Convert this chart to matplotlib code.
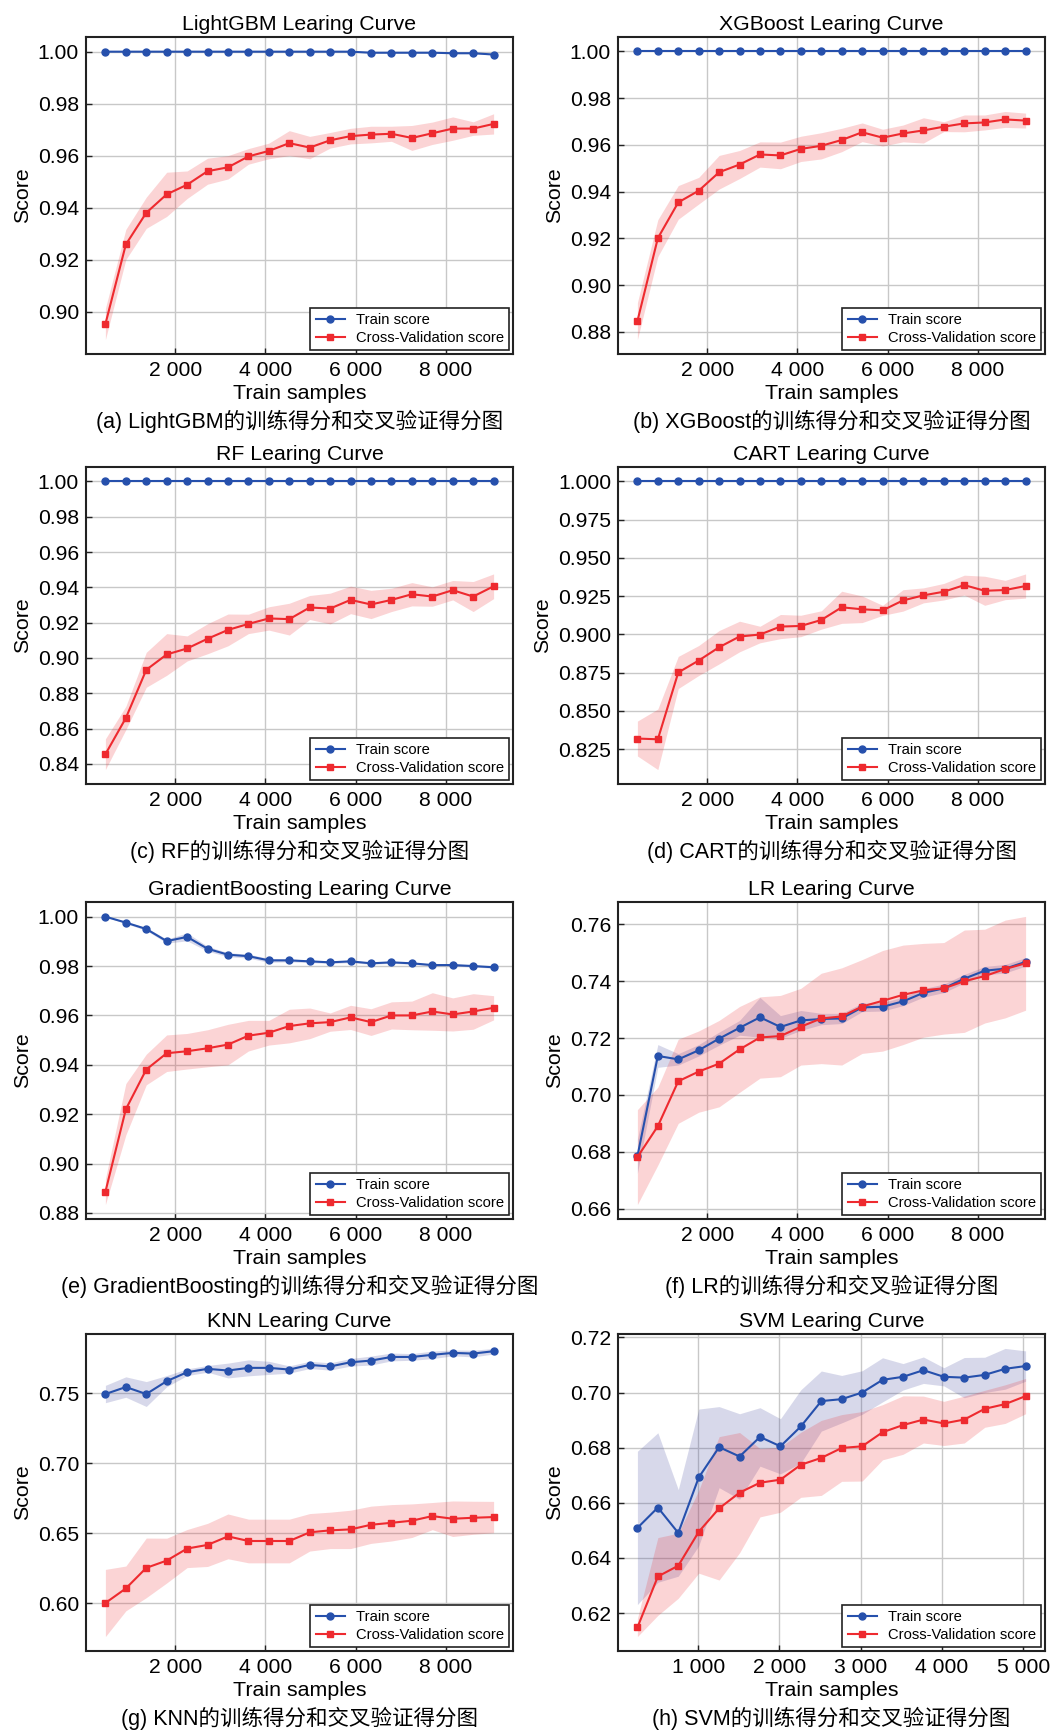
import numpy as np
import matplotlib
matplotlib.use("Agg")
import matplotlib.pyplot as plt
from matplotlib.ticker import FuncFormatter, MultipleLocator

plt.rcParams['font.family'] = ['Liberation Sans', 'Noto Sans CJK SC']

# training set sizes (learning_curve steps)
sizes_full = [453, 906, 1359, 1812, 2265, 2718, 3171, 3624, 4077, 4530,
              4983, 5436, 5889, 6342, 6795, 7248, 7701, 8154, 8607, 9060]
sizes_svm = [251, 503, 754, 1006, 1257, 1509, 1760, 2012, 2263, 2515,
             2766, 3018, 3269, 3521, 3772, 4024, 4275, 4527, 4778, 5030]

# (a) LightGBM
lgb_train = [1.0, 1.0, 1.0, 1.0, 1.0, 1.0, 1.0, 1.0, 1.0, 1.0,
             1.0, 1.0, 1.0, 0.9996, 0.9996, 0.9996, 0.9996, 0.9994, 0.9994, 0.9989]
lgb_train_std = [0.0001] * 13 + [0.0002] * 7
lgb_cv = [0.8952, 0.9258, 0.9380, 0.9451, 0.9488, 0.9540, 0.9555, 0.9597, 0.9618, 0.9648,
          0.9631, 0.9659, 0.9675, 0.9681, 0.9684, 0.9668, 0.9686, 0.9704, 0.9704, 0.9722]
lgb_cv_std = [0.0060, 0.0058, 0.0060, 0.0085, 0.0053, 0.0050, 0.0045, 0.0030, 0.0030, 0.0048,
              0.0043, 0.0030, 0.0030, 0.0032, 0.0029, 0.0048, 0.0043, 0.0045, 0.0026, 0.0039]

# (b) XGBoost
xgb_train = [1.0] * 20
xgb_train_std = [0.0] * 20
xgb_cv = [0.8846, 0.9201, 0.9354, 0.9404, 0.9483, 0.9516, 0.9559, 0.9555, 0.9583, 0.9596,
          0.9621, 0.9654, 0.9631, 0.9649, 0.9662, 0.9678, 0.9692, 0.9696, 0.9709, 0.9704]
xgb_cv_std = [0.0079, 0.0079, 0.0072, 0.0057, 0.0072, 0.0060, 0.0054, 0.0057, 0.0054, 0.0056,
              0.0050, 0.0040, 0.0036, 0.0036, 0.0054, 0.0021, 0.0036, 0.0032, 0.0034, 0.0032]

# (c) RF
rf_train = [1.0] * 20
rf_train_std = [0.0] * 20
rf_cv = [0.8455, 0.8660, 0.8933, 0.9020, 0.9054, 0.9109, 0.9159, 0.9193, 0.9224, 0.9220,
         0.9286, 0.9280, 0.9329, 0.9303, 0.9329, 0.9361, 0.9348, 0.9384, 0.9348, 0.9406]
rf_cv_std = [0.0087, 0.0066, 0.0099, 0.0118, 0.0071, 0.0085, 0.0090, 0.0055, 0.0066, 0.0090,
             0.0068, 0.0087, 0.0078, 0.0080, 0.0066, 0.0066, 0.0055, 0.0055, 0.0085, 0.0070]

# (d) CART
cart_train = [1.0] * 20
cart_train_std = [0.0] * 20
cart_cv = [0.8319, 0.8314, 0.8751, 0.8829, 0.8916, 0.8986, 0.8999, 0.9051, 0.9055, 0.9094,
           0.9177, 0.9164, 0.9157, 0.9222, 0.9255, 0.9279, 0.9322, 0.9285, 0.9290, 0.9316]
cart_cv_std = [0.0114, 0.0198, 0.0105, 0.0098, 0.0109, 0.0100, 0.0054, 0.0079, 0.0070, 0.0060,
               0.0105, 0.0087, 0.0033, 0.0070, 0.0049, 0.0054, 0.0065, 0.0095, 0.0063, 0.0079]

# (e) GradientBoosting
gb_train = [1.0000, 0.9976, 0.9950, 0.9901, 0.9918, 0.9870, 0.9846, 0.9840, 0.9823, 0.9823,
            0.9819, 0.9815, 0.9819, 0.9811, 0.9815, 0.9811, 0.9804, 0.9804, 0.9800, 0.9795]
gb_train_std = [0.0001, 0.0004, 0.0006, 0.0008, 0.0016, 0.0010, 0.0008, 0.0008, 0.0008, 0.0006,
                0.0005, 0.0005, 0.0005, 0.0004, 0.0004, 0.0004, 0.0004, 0.0004, 0.0004, 0.0004]
gb_cv = [0.8886, 0.9220, 0.9381, 0.9447, 0.9455, 0.9467, 0.9482, 0.9518, 0.9530, 0.9557,
         0.9568, 0.9573, 0.9592, 0.9573, 0.9600, 0.9600, 0.9616, 0.9604, 0.9616, 0.9631]
gb_cv_std = [0.0052, 0.0104, 0.0062, 0.0074, 0.0072, 0.0075, 0.0082, 0.0062, 0.0050, 0.0068,
             0.0062, 0.0037, 0.0049, 0.0054, 0.0055, 0.0058, 0.0076, 0.0067, 0.0072, 0.0049]

# (f) LR
lr_train = [0.6784, 0.7137, 0.7125, 0.7157, 0.7198, 0.7236, 0.7273, 0.7239, 0.7262, 0.7267,
            0.7269, 0.7308, 0.7310, 0.7329, 0.7359, 0.7375, 0.7409, 0.7437, 0.7444, 0.7468]
lr_train_std = [0.0060, 0.0040, 0.0020, 0.0020, 0.0023, 0.0026, 0.0070, 0.0040, 0.0035, 0.0020,
                0.0018, 0.0015, 0.0015, 0.0015, 0.0015, 0.0015, 0.0015, 0.0015, 0.0015, 0.0015]
lr_cv = [0.6781, 0.6890, 0.7048, 0.7082, 0.7110, 0.7160, 0.7202, 0.7207, 0.7240, 0.7269,
         0.7276, 0.7311, 0.7331, 0.7352, 0.7368, 0.7375, 0.7400, 0.7418, 0.7443, 0.7463]
lr_cv_std = [0.0167, 0.0137, 0.0148, 0.0143, 0.0152, 0.0151, 0.0143, 0.0143, 0.0135, 0.0159,
             0.0171, 0.0165, 0.0177, 0.0175, 0.0165, 0.0161, 0.0180, 0.0165, 0.0172, 0.0165]

# (g) KNN
knn_train = [0.7493, 0.7543, 0.7493, 0.7585, 0.7649, 0.7673, 0.7661, 0.7680, 0.7680, 0.7668,
             0.7701, 0.7690, 0.7720, 0.7732, 0.7758, 0.7758, 0.7773, 0.7787, 0.7782, 0.7799]
knn_train_std = [0.0062, 0.0073, 0.0089, 0.0040, 0.0024, 0.0024, 0.0053, 0.0057, 0.0047, 0.0026,
                 0.0026, 0.0026, 0.0027, 0.0032, 0.0028, 0.0024, 0.0027, 0.0021, 0.0024, 0.0020]
knn_cv = [0.6000, 0.6104, 0.6251, 0.6303, 0.6389, 0.6415, 0.6476, 0.6443, 0.6443, 0.6443,
          0.6505, 0.6519, 0.6526, 0.6559, 0.6573, 0.6588, 0.6621, 0.6602, 0.6609, 0.6614]
knn_cv_std = [0.0240, 0.0160, 0.0213, 0.0160, 0.0136, 0.0154, 0.0160, 0.0156, 0.0156, 0.0156,
              0.0134, 0.0130, 0.0137, 0.0133, 0.0130, 0.0120, 0.0097, 0.0127, 0.0118, 0.0112]

# (h) SVM
svm_train = [0.6509, 0.6583, 0.6491, 0.6692, 0.6802, 0.6768, 0.6839, 0.6805, 0.6877, 0.6969,
             0.6976, 0.7000, 0.7046, 0.7057, 0.7081, 0.7057, 0.7054, 0.7064, 0.7086, 0.7096]
svm_train_std = [0.0278, 0.0271, 0.0157, 0.0248, 0.0147, 0.0155, 0.0106, 0.0100, 0.0133, 0.0109,
                 0.0086, 0.0079, 0.0080, 0.0048, 0.0048, 0.0033, 0.0073, 0.0064, 0.0074, 0.0055]
svm_cv = [0.6148, 0.6333, 0.6372, 0.6495, 0.6580, 0.6637, 0.6673, 0.6684, 0.6738, 0.6763,
          0.6799, 0.6805, 0.6856, 0.6882, 0.6902, 0.6888, 0.6902, 0.6941, 0.6958, 0.6987]
svm_cv_std = [0.0033, 0.0141, 0.0118, 0.0150, 0.0260, 0.0218, 0.0124, 0.0118, 0.0118, 0.0136,
              0.0121, 0.0126, 0.0100, 0.0106, 0.0085, 0.0080, 0.0085, 0.0067, 0.0070, 0.0064]

models = ["LightGBM", "XGBoost", "RF", "CART", "GradientBoosting", "LR", "KNN", "SVM"]
letters = ["a", "b", "c", "d", "e", "f", "g", "h"]
y_steps = [0.02, 0.02, 0.02, 0.025, 0.02, 0.02, 0.05, 0.02]
panels = [
    (sizes_full, lgb_train, lgb_train_std, lgb_cv, lgb_cv_std),
    (sizes_full, xgb_train, xgb_train_std, xgb_cv, xgb_cv_std),
    (sizes_full, rf_train, rf_train_std, rf_cv, rf_cv_std),
    (sizes_full, cart_train, cart_train_std, cart_cv, cart_cv_std),
    (sizes_full, gb_train, gb_train_std, gb_cv, gb_cv_std),
    (sizes_full, lr_train, lr_train_std, lr_cv, lr_cv_std),
    (sizes_full, knn_train, knn_train_std, knn_cv, knn_cv_std),
    (sizes_svm, svm_train, svm_train_std, svm_cv, svm_cv_std),
]

BLUE = "#2650ac"
BLUE_FILL = "#3a409a"
RED = "#ee2a2f"

W, H = 1055, 1730
fig = plt.figure(figsize=(W / 100, H / 100), dpi=100)

col_left = [86, 618]
col_width = 427
row_top = [37, 467, 902, 1334]
row_height = 317

thousands = FuncFormatter(lambda v, p: f"{int(v):,}".replace(",", " "))

for i, (name, letter, (sz, tr, tr_s, cv, cv_s)) in enumerate(zip(models, letters, panels)):
    r, c = divmod(i, 2)
    x0 = col_left[c]
    y0 = row_top[r]
    ax = fig.add_axes([x0 / W, 1 - (y0 + row_height) / H, col_width / W, row_height / H])

    sz = np.array(sz)
    tr, tr_s = np.array(tr), np.array(tr_s)
    cv, cv_s = np.array(cv), np.array(cv_s)

    ax.fill_between(sz, tr - tr_s, tr + tr_s, color=BLUE_FILL, alpha=0.2, lw=0)
    ax.fill_between(sz, cv - cv_s, cv + cv_s, color=RED, alpha=0.2, lw=0)
    ax.plot(sz, tr, "o-", color=BLUE, lw=1.5, ms=5, label="Train score")
    ax.plot(sz, cv, "s-", color=RED, lw=1.5, ms=5, label="Cross-Validation score")

    ax.grid(True, color="#c8c8c8", lw=1.0)
    ax.set_axisbelow(True)
    ax.yaxis.set_major_locator(MultipleLocator(y_steps[i]))
    ax.xaxis.set_major_formatter(thousands)
    ax.tick_params(direction="in", length=4, width=1, labelsize=15.2, pad=5, color="#222222")
    for sp in ax.spines.values():
        sp.set_linewidth(1.5)
        sp.set_color("#222222")

    ax.set_title(f"{name} Learing Curve", fontsize=15.3, pad=5)
    ax.set_xlabel("Train samples", fontsize=15.4, labelpad=3)
    ax.set_ylabel("Score", fontsize=15.4, labelpad=4)

    leg = ax.legend(loc="lower right", fontsize=10.6, fancybox=False, framealpha=1,
                    edgecolor="#222222", borderaxespad=0.25, handlelength=2.0,
                    handletextpad=0.75, borderpad=0.35, labelspacing=0.3)
    leg.get_frame().set_linewidth(1.2)

    ax.text(0.5, -67 / row_height, f"({letter}) {name}的训练得分和交叉验证得分图",
            transform=ax.transAxes, ha="center", va="center", fontsize=15.5)

fig.savefig("out.png", dpi=100)
